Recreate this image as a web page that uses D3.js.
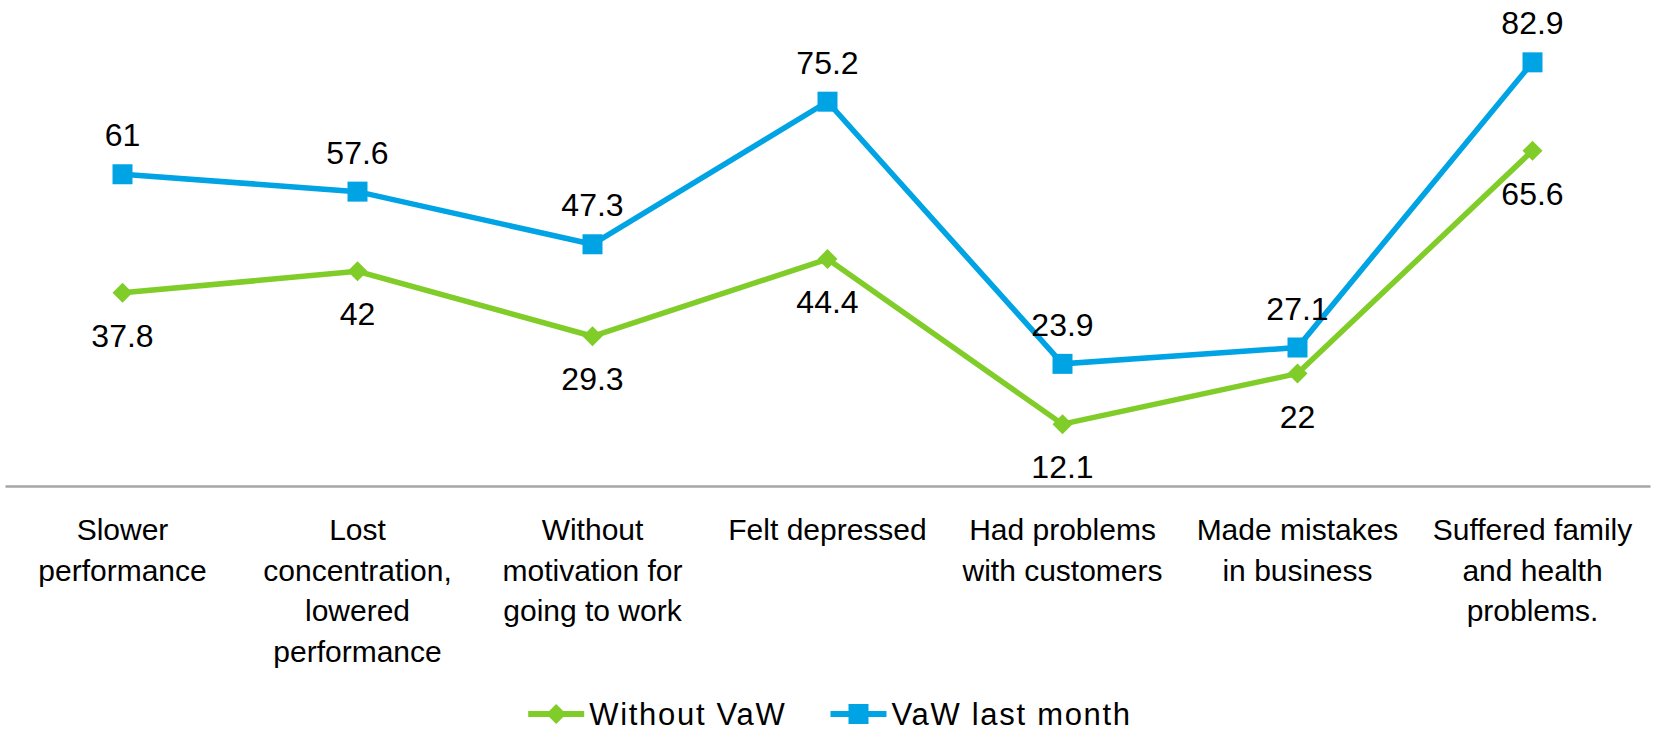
<!DOCTYPE html>
<html lang="en">
<head>
    <meta charset="UTF-8">
    <title>VaW line chart</title>
    <script src="https://cdn.jsdelivr.net/npm/d3@7/dist/d3.min.js"></script>
    <style>
        body { margin: 0; background: #fff; }
        svg text { font-family: "Liberation Sans", Arial, sans-serif; fill: #000; }
        .axis path { stroke: #a6a6a6; stroke-width: 2.5; }
        .axis line { display: none; }
    </style>
</head>
<body>
<script>
    // data
    const categories = ['Slower performance', 'Lost concentration, lowered performance',
        'Without motivation for going to work', 'Felt depressed', 'Had problems with customers',
        'Made mistakes in business', 'Suffered family and health problems.'];
    const tickLines = [
        ['Slower', 'performance'],
        ['Lost', 'concentration,', 'lowered', 'performance'],
        ['Without', 'motivation for', 'going to work'],
        ['Felt depressed'],
        ['Had problems', 'with customers'],
        ['Made mistakes', 'in business'],
        ['Suffered family', 'and health', 'problems.']
    ];
    const withoutVaw = [37.8, 42, 29.3, 44.4, 12.1, 22, 65.6];
    const vawLastMonth = [61, 57.6, 47.3, 75.2, 23.9, 27.1, 82.9];
    const seriesNames = ['Without VaW', 'VaW last month'];

    const width = 1671, height = 731;
    const green = '#80cc28', blue = '#00a3e4';

    const svg = d3.select('body').append('svg')
        .attr('width', width)
        .attr('height', height);

    const x = d3.scaleBand()
        .domain(categories)
        .range([5, 1650]);

    const y = d3.scaleLinear()
        .domain([0, 95])
        .range([486, 0.5]);

    // x axis
    const axis = svg.append('g')
        .attr('class', 'axis')
        .attr('transform', 'translate(0,' + y(0) + ')')
        .call(d3.axisBottom(x).tickSize(0).tickSizeOuter(0).tickFormat(''));

    axis.selectAll('.tick text').remove();
    axis.selectAll('.tick')
        .append('text')
        .attr('text-anchor', 'middle')
        .style('font-size', '30px')
        .each(function (d, i) {
            const t = d3.select(this);
            tickLines[i].forEach(function (line, j) {
                t.append('tspan')
                    .attr('x', 0)
                    .attr('y', 54 + j * 40.5)
                    .text(line);
            });
        });

    const line = d3.line()
        .x(function (d, i) { return x(categories[i]) + x.bandwidth() / 2; })
        .y(function (d) { return y(d); });

    const series = [
        {name: seriesNames[0], values: withoutVaw, color: green, marker: 'diamond', labelDy: 54},
        {name: seriesNames[1], values: vawLastMonth, color: blue, marker: 'square', labelDy: -28}
    ];

    function markerPath(type) {
        if (type === 'square') return d3.symbol().type(d3.symbolSquare).size(400)();
        return d3.symbol().type(d3.symbolSquare).size(200)();
    }

    series.forEach(function (s) {
        const g = svg.append('g');
        g.append('path')
            .datum(s.values)
            .attr('d', line)
            .attr('fill', 'none')
            .attr('stroke', s.color)
            .attr('stroke-width', 5.5)
            .attr('stroke-linejoin', 'miter');

        g.selectAll('.marker')
            .data(s.values)
            .enter()
            .append('path')
            .attr('class', 'marker')
            .attr('d', markerPath(s.marker))
            .attr('fill', s.color)
            .attr('transform', function (d, i) {
                return 'translate(' + (x(categories[i]) + x.bandwidth() / 2) + ',' + y(d) + ')' +
                    (s.marker === 'diamond' ? ' rotate(45)' : '');
            });
    });

    // data labels on top of lines
    series.forEach(function (s) {
        svg.append('g').selectAll('text')
            .data(s.values)
            .enter()
            .append('text')
            .attr('text-anchor', 'middle')
            .style('font-size', '32px')
            .attr('x', function (d, i) { return x(categories[i]) + x.bandwidth() / 2; })
            .attr('y', function (d) { return y(d) + s.labelDy; })
            .text(function (d) { return d; });
    });

    // legend
    const legend = svg.append('g');
    const legendY = 714;
    const itemGap = 44;
    let cursor = 0;
    series.forEach(function (s, i) {
        const item = legend.append('g').attr('transform', 'translate(' + cursor + ',0)');
        item.append('line')
            .attr('x1', 0).attr('x2', 56)
            .attr('y1', legendY).attr('y2', legendY)
            .attr('stroke', s.color)
            .attr('stroke-width', 6);
        item.append('path')
            .attr('d', markerPath(s.marker))
            .attr('fill', s.color)
            .attr('transform', 'translate(28,' + legendY + ')' + (s.marker === 'diamond' ? ' rotate(45)' : ''));
        const txt = item.append('text')
            .attr('x', 61)
            .attr('y', legendY + 11)
            .style('font-size', '31px')
            .style('letter-spacing', '1.7px')
            .text(s.name);
        cursor += 61 + txt.node().getComputedTextLength() + itemGap;
    });
    const legendWidth = cursor - itemGap;
    legend.attr('transform', 'translate(' + (830 - legendWidth / 2) + ',0)');
</script>
</body>
</html>
